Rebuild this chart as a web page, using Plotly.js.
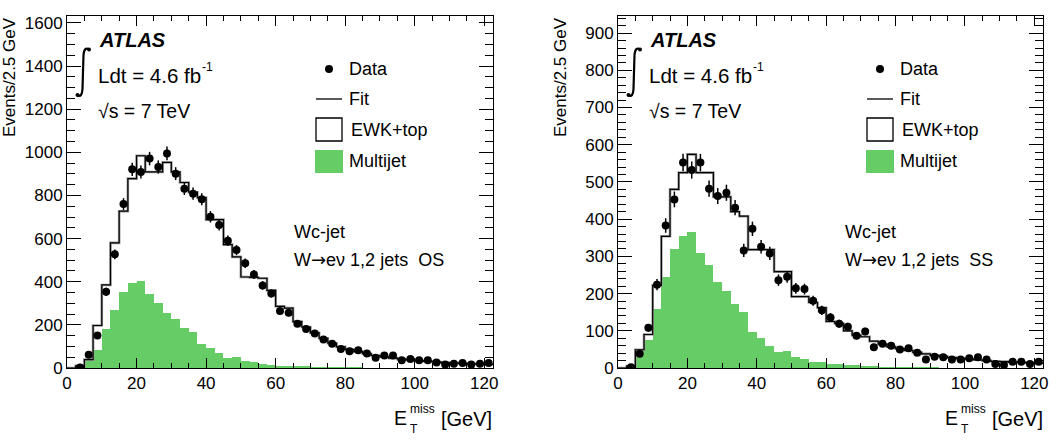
<!DOCTYPE html>
<html>
<head>
<meta charset="utf-8">
<script src="https://cdn.plot.ly/plotly-3.0.1.min.js"></script>
<style>html,body{margin:0;padding:0;background:#fff;}#chart{width:1059px;height:442px;}</style>
</head>
<body>
<div id="chart"></div>
<script>
// ---------------- data ----------------
// bin edges (2.5 GeV bins), E_T^miss [GeV]
const binEdges = [0,2.5,5,7.5,10,12.5,15,17.5,20,22.5,25,27.5,30,32.5,35,37.5,40,42.5,45,47.5,50,52.5,55,57.5,60,62.5,65,67.5,70,72.5,75,77.5,80,82.5,85,87.5,90,92.5,95,97.5,100,102.5,105,107.5,110,112.5,115,117.5,120,122.5];

// Left panel: W->ev 1,2 jets OS
const dataOS = [null,2,62,151,353,527,760,921,909,971,932,995,901,831,808,782,701,663,590,547,486,434,383,345,264,256,205,181,160,132,113,88,78,82,67,47,58,58,36,42,36,36,26,16,20,23,16,20,23];
const fitOS = [0,10,39,197,385,580,727,878,984,909,909,953,909,860,815,790,688,688,572,515,422,420,416,360,286,278,215,190,163,138,115,98,86,76,66,58,52,46,41,37,34,31,28,25,23,21,19,18,17];
const multijetOS = [0,5,39,82,179,269,353,392,404,345,303,256,225,186,166,113,91,71,47,49,31,26,17,15,11,10,8,7,6,5,4,4,3,3,2,2,2,1,1,1,1,1,1,1,0,0,0,0,0];

// Right panel: W->ev 1,2 jets SS
const dataSS = [null,2,38,108,224,383,453,552,532,552,482,462,471,431,316,374,326,308,236,245,214,212,181,155,136,119,111,87,98,56,65,60,50,53,41,23,30,29,23,23,26,29,23,11,8,17,17,11,17];
const fitSS = [0,5,49,90,222,354,480,525,574,525,525,460,460,420,408,318,318,318,259,259,192,192,176,162,125,120,100,88,84,72,64,57,52,47,42,38,34,31,28,26,24,22,20,18,17,16,15,14,13];
const multijetSS = [0,3,48,76,159,245,319,355,366,308,276,232,206,171,151,96,81,58,42,46,29,23,17,17,11,11,8,8,6,5,4,4,3,3,2,2,2,1,1,1,1,1,1,0,0,0,0,0,0];

const legendLabels = ['Data','Fit','EWK+top','Multijet'];
const ARROW = '<span style="font-family:DejaVu Sans">\u2192</span>';
const channelLabels = ['W' + ARROW + 'e\u03bd 1,2 jets\u00a0 OS','W' + ARROW + 'e\u03bd 1,2 jets\u00a0 SS'];

// ---------------- layout helpers ----------------
const W = 1059, H = 442, ML = 67, MR = 16, MT = 16, MB = 74;
const PW = W - ML - MR, PH = H - MT - MB;
const px = x => (x - ML) / PW;
const py = y => (H - MB - y) / PH;
const FONT = 'Liberation Sans, Arial, Helvetica, sans-serif';
const GREEN = '#66cc66';

const binCenters = binEdges.slice(0, -1).map((e, i) => (e + binEdges[i + 1]) / 2);
const stepY = arr => arr.concat([arr[arr.length - 1]]);

function panelTraces(data, fit, mj, xa, ya) {
  return [
    {type:'bar', x:binCenters, y:mj, width:2.5, xaxis:xa, yaxis:ya,
     marker:{color:GREEN, line:{width:0}}, hoverinfo:'skip', showlegend:false},
    {type:'scatter', mode:'lines', x:binEdges, y:stepY(fit), xaxis:xa, yaxis:ya,
     line:{shape:'hv', color:'#9a9a9a', width:2.6}, hoverinfo:'skip', showlegend:false},
    {type:'scatter', mode:'lines', x:binEdges, y:stepY(fit), xaxis:xa, yaxis:ya,
     line:{shape:'hv', color:'#000', width:1.2}, hoverinfo:'skip', showlegend:false},
    {type:'scatter', mode:'markers', x:binCenters, y:data, xaxis:xa, yaxis:ya,
     marker:{color:'#000', size:8},
     error_y:{type:'data', array:data.map(v => v == null ? 0 : Math.sqrt(v)), visible:true, thickness:1.5, width:0, color:'#000'},
     hoverinfo:'skip', showlegend:false}
  ];
}

const traces = panelTraces(dataOS, fitOS, multijetOS, 'x', 'y')
  .concat(panelTraces(dataSS, fitSS, multijetSS, 'x2', 'y2'));

function xAxis(domain, anchor) {
  return {domain:domain, anchor:anchor, range:[0,122.5], tick0:0, dtick:20,
    ticks:'inside', ticklen:10, tickwidth:1, tickcolor:'#000',
    showline:true, linecolor:'#000', linewidth:1, mirror:'ticks',
    showgrid:false, zeroline:false, fixedrange:true,
    tickfont:{family:FONT, size:17, color:'#000'},
    minor:{dtick:5, tick0:0, ticks:'inside', ticklen:5, tickcolor:'#000', tickwidth:1, showgrid:false}};
}
function yAxis(anchor, top, major, minor) {
  return {anchor:anchor, range:[0, top], tick0:0, dtick:major,
    ticks:'inside', ticklen:14, tickwidth:1, tickcolor:'#000',
    showline:true, linecolor:'#000', linewidth:1, mirror:'ticks',
    showgrid:false, zeroline:false, fixedrange:true,
    tickfont:{family:FONT, size:17, color:'#000'},
    minor:{dtick:minor, tick0:0, ticks:'inside', ticklen:8, tickcolor:'#000', tickwidth:1, showgrid:false}};
}

const annotations = [];
const shapes = [];
function ann(x, y, text, size, opts) {
  annotations.push(Object.assign({xref:'paper', yref:'paper', x:px(x), y:py(y), text:text,
    showarrow:false, xanchor:'left', yanchor:'middle', borderpad:0,
    font:{family:FONT, size:size, color:'#000'}}, opts || {}));
}

function decorate(dx, chan) {
  // ATLAS label
  ann(98 + dx, 40, '<b><i>ATLAS</i></b>', 20);
  // integral sign
  const p = (x, y) => px(x + dx).toFixed(5) + ',' + py(y).toFixed(5);
  shapes.push({type:'path', xref:'paper', yref:'paper',
    path:'M' + p(77.5,95) + ' Q' + p(82,98) + ' ' + p(82.5,89) + ' L' + p(83.5,55) + ' Q' + p(84.5,46) + ' ' + p(89,49.5),
    line:{color:'#000', width:2.2}});
  shapes.push({type:'circle', xref:'paper', yref:'paper', x0:px(75.5+dx), x1:px(79.5+dx), y0:py(97), y1:py(93), fillcolor:'#000', line:{width:0}});
  shapes.push({type:'circle', xref:'paper', yref:'paper', x0:px(87+dx), x1:px(91+dx), y0:py(51.5), y1:py(47.5), fillcolor:'#000', line:{width:0}});
  ann(97 + dx, 76, 'Ldt = 4.6 fb', 20.5);
  ann(201 + dx, 67, '-1', 12);
  ann(97 + dx, 111, '\u221As = 7 TeV', 19.5);
  // legend
  shapes.push({type:'circle', xref:'paper', yref:'paper', x0:px(325+dx), x1:px(333+dx), y0:py(73), y1:py(65), fillcolor:'#000', line:{width:0}});
  ann(348 + dx, 69, legendLabels[0], 18);
  shapes.push({type:'line', xref:'paper', yref:'paper', x0:px(316+dx), x1:px(342+dx), y0:py(99), y1:py(99), line:{color:'#000', width:1.3}});
  ann(348 + dx, 99, legendLabels[1], 18);
  shapes.push({type:'rect', xref:'paper', yref:'paper', x0:px(316+dx), x1:px(342+dx), y0:py(141), y1:py(118), fillcolor:'#fff', line:{color:'#000', width:1.3}});
  ann(350 + dx, 130, legendLabels[2], 18);
  shapes.push({type:'rect', xref:'paper', yref:'paper', x0:px(315+dx), x1:px(343+dx), y0:py(173), y1:py(150), fillcolor:GREEN, line:{width:0}});
  ann(348 + dx, 161, legendLabels[3], 18);
  // channel labels
  ann(293 + dx, 232, 'Wc-jet', 18);
  ann(293 + dx, 259, chan, 18);
  // x axis title (E_T^miss [GeV])
  ann(407.5 + dx, 418, 'E', 19.5, {xanchor:'right'});
  ann(409 + dx, 408.5, 'miss', 12);
  ann(409 + dx, 429, 'T', 12);
  ann(493 + dx, 419, '[GeV]', 20, {xanchor:'right'});
  // y axis title
  ann(9 + dx, 77, 'Events/2.5 GeV', 17, {xanchor:'center', textangle:-90});
}
decorate(0, channelLabels[0]);
decorate(551, channelLabels[1]);

const layout = {
  width:W, height:H, margin:{l:ML, r:MR, t:MT, b:MB, pad:0},
  paper_bgcolor:'#fff', plot_bgcolor:'#fff',
  font:{family:FONT, size:17, color:'#000'},
  showlegend:false, bargap:0, barmode:'overlay',
  xaxis: xAxis([0, px(493)], 'y'),
  yaxis: yAxis('x', 1632, 200, 50),
  xaxis2: xAxis([px(618), 1], 'y2'),
  yaxis2: yAxis('x2', 946, 100, 20),
  annotations:annotations, shapes:shapes
};

Plotly.newPlot('chart', traces, layout, {staticPlot:true, displayModeBar:false});
</script>
</body>
</html>
